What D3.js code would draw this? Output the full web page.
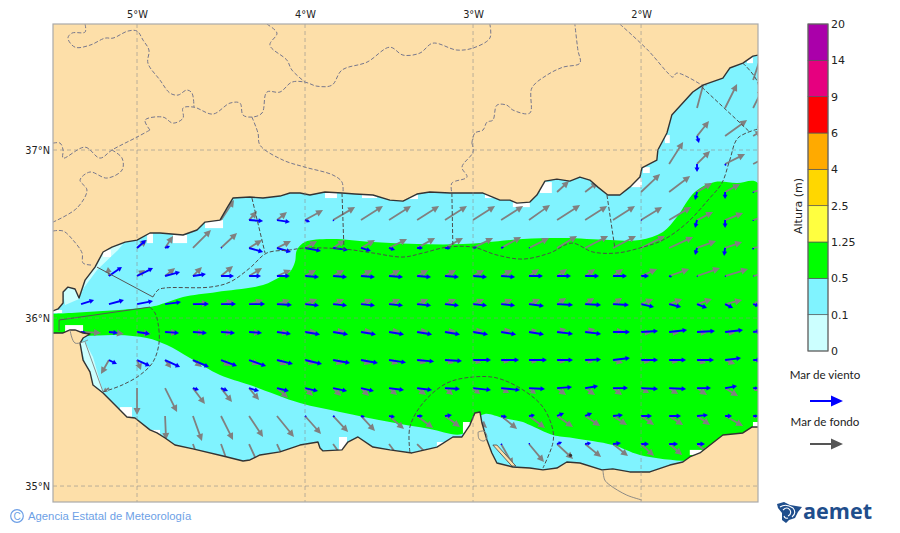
<!DOCTYPE html>
<html lang="es">
<head>
<meta charset="utf-8">
<title>Altura de oleaje</title>
<script src="https://cdn.jsdelivr.net/npm/d3@7"></script>
<style>
  html, body { margin: 0; background: #fff; }
  svg { display: block; }
  text { font-family: "DejaVu Sans", sans-serif; fill: #222; }
</style>
</head>
<body>
<svg id="chart" width="900" height="533"></svg>
<script>
const lonTicks = [-5, -4, -3, -2];
const latTicks = [35, 36, 37];
const levelLabels = ["0", "0.1", "0.5", "1.25", "2.5", "4", "6", "9", "14", "20"];
const levelColors = ["#ccffff", "#80f3ff", "#00ff00", "#ffff40", "#ffd700", "#ffaa00", "#ff0000", "#e6007f", "#aa00aa"];

// outlines in degrees [lon, lat]
const northCoast = [[-5.5,36.042],[-5.47,36.054],[-5.44,36.089],[-5.44,36.155],[-5.411,36.184],[-5.369,36.173],[-5.345,36.119],[-5.309,36.226],[-5.25,36.303],[-5.202,36.393],[-5.149,36.422],[-5.071,36.452],[-5,36.464],[-4.923,36.506],[-4.863,36.506],[-4.726,36.494],[-4.643,36.524],[-4.595,36.571],[-4.506,36.583],[-4.464,36.655],[-4.429,36.714],[-4.328,36.72],[-4.25,36.714],[-4.149,36.726],[-4.09,36.744],[-4.03,36.744],[-3.971,36.732],[-3.881,36.75],[-3.78,36.744],[-3.703,36.738],[-3.596,36.732],[-3.495,36.702],[-3.417,36.696],[-3.334,36.738],[-3.257,36.75],[-3.138,36.744],[-2.941,36.744],[-2.84,36.702],[-2.781,36.702],[-2.739,36.684],[-2.662,36.69],[-2.62,36.732],[-2.572,36.815],[-2.501,36.827],[-2.424,36.815],[-2.364,36.839],[-2.305,36.821],[-2.257,36.779],[-2.198,36.732],[-2.126,36.732],[-2.067,36.779],[-2.007,36.839],[-1.995,36.893],[-1.906,36.94],[-1.9,37],[-1.846,37.101],[-1.817,37.208],[-1.692,37.345],[-1.632,37.386],[-1.513,37.428],[-1.472,37.488],[-1.394,37.517],[-1.334,37.559],[-1.304,37.565]];
const southCoast = [[-5.5,35.911],[-5.44,35.911],[-5.399,35.929],[-5.369,35.929],[-5.321,35.911],[-5.28,35.905],[-5.321,35.881],[-5.339,35.851],[-5.321,35.75],[-5.28,35.679],[-5.262,35.601],[-5.202,35.554],[-5.119,35.47],[-5.06,35.411],[-5.012,35.405],[-4.923,35.334],[-4.881,35.316],[-4.833,35.286],[-4.774,35.244],[-4.667,35.221],[-4.488,35.179],[-4.369,35.149],[-4.328,35.155],[-4.268,35.185],[-4.149,35.203],[-4.03,35.244],[-3.923,35.262],[-3.911,35.226],[-3.893,35.209],[-3.78,35.215],[-3.745,35.262],[-3.685,35.292],[-3.596,35.232],[-3.495,35.215],[-3.364,35.197],[-3.215,35.232],[-3.12,35.292],[-3.066,35.292],[-3.019,35.363],[-2.989,35.435],[-2.959,35.441],[-2.947,35.375],[-2.917,35.274],[-2.888,35.197],[-2.858,35.137],[-2.763,35.113],[-2.662,35.107],[-2.584,35.096],[-2.501,35.107],[-2.442,35.143],[-2.364,35.137],[-2.233,35.096],[-2.168,35.102],[-2.067,35.084],[-1.948,35.084],[-1.829,35.125],[-1.751,35.143],[-1.71,35.173],[-1.65,35.197],[-1.513,35.304],[-1.394,35.316],[-1.341,35.351],[-1.304,35.351]];
const sandSpit = [[-2.882,35.244],[-2.858,35.244],[-2.745,35.119],[-2.769,35.119]];

const band05to125 = [[-5.5,36.024],[-4.923,36.065],[-4.833,36.089],[-4.726,36.125],[-4.524,36.155],[-4.25,36.196],[-4.149,36.244],[-4.09,36.274],[-4.06,36.333],[-4.048,36.405],[-4,36.452],[-3.852,36.47],[-3.596,36.452],[-3.334,36.44],[-3.06,36.44],[-2.703,36.47],[-2.465,36.476],[-2.186,36.464],[-2.007,36.464],[-1.87,36.512],[-1.787,36.601],[-1.68,36.75],[-1.561,36.809],[-1.43,36.803],[-1.304,36.803],[-1.304,35.351],[-1.65,35.155],[-1.728,35.149],[-2.007,35.185],[-2.168,35.244],[-2.406,35.286],[-2.525,35.304],[-2.662,35.363],[-2.703,35.381],[-2.822,35.405],[-2.929,35.429],[-2.989,35.393],[-3.066,35.31],[-3.257,35.34],[-3.495,35.381],[-3.792,35.441],[-4.03,35.494],[-4.328,35.601],[-4.506,35.661],[-4.685,35.762],[-4.822,35.839],[-4.941,35.881],[-5.119,35.899],[-5.321,35.893],[-5.5,35.893]];
const band0to01 = [
  [[-5.327,36.155],[-5.309,36.226],[-5.202,36.393],[-5.149,36.422],[-5.083,36.44],[-5.113,36.405],[-5.238,36.286],[-5.339,36.149]],
  [[-5.44,36.149],[-5.411,36.184],[-5.369,36.173],[-5.345,36.113],[-5.428,36.077]],
  [[-5.327,35.857],[-5.309,35.857],[-5.262,35.768],[-5.202,35.56],[-5.262,35.601],[-5.298,35.69],[-5.339,35.851]]
];
// cells with no wave model value next to the coast [west, north, east, south]
const emptyCells = [[-4.595,36.583,-4.488,36.535],[-4.786,36.494,-4.702,36.446],[-4.94,36.506,-4.905,36.446],[-5.202,36.405,-5.155,36.363],[-5.5,36.048,-5.446,36.03],[-5.428,35.958,-5.321,35.917],[-5.101,35.47,-5.03,35.411],[-4.911,35.334,-4.863,35.31],[-3.881,36.744,-3.81,36.714],[-3.661,36.738,-3.572,36.714],[-3.405,36.732,-3.328,36.708],[-2.929,36.744,-2.882,36.714],[-2.763,36.69,-2.662,36.66],[-3.798,35.292,-3.75,35.215],[-3.06,35.381,-3.019,35.316],[-3.215,35.262,-3.167,35.232],[-2.602,36.809,-2.531,36.744],[-2.067,36.833,-1.995,36.779],[-1.989,36.898,-1.948,36.863],[-1.858,37.089,-1.829,37.041],[-1.37,37.553,-1.334,37.517],[-1.71,35.215,-1.638,35.185],[-1.334,35.381,-1.304,35.351]];

const zoneLines = [
  [[-5.238,36.303],[-4.905,36.125]],
  [[-5.464,35.923],[-5.464,35.988],[-4.923,36.065]]
];
const zoneDashed = [
  [[-4.923,36.065],[-4.893,36.03],[-4.875,35.97],[-4.869,35.851],[-4.905,35.738],[-4.982,35.661],[-5.089,35.601],[-5.202,35.56]],
  [[-4.905,36.125],[-4.875,36.167],[-4.833,36.179],[-4.566,36.184],[-4.447,36.214],[-4.328,36.298],[-4.227,36.387],[-4.09,36.405],[-4,36.417],[-3.762,36.41],[-3.596,36.387],[-3.417,36.363],[-3.298,36.387],[-3.155,36.422],[-3,36.422],[-2.858,36.375],[-2.703,36.351],[-2.543,36.387],[-2.412,36.446],[-2.287,36.393],[-2.144,36.387],[-2.007,36.417],[-1.87,36.464],[-1.728,36.565],[-1.591,36.714],[-1.519,36.803],[-1.472,36.94],[-1.424,37.071],[-1.304,37.125]],
  [[-4.316,36.714],[-4.238,36.387]],
  [[-3.78,36.744],[-3.768,36.405]],
  [[-3.126,36.744],[-3.12,36.422]],
  [[-2.203,36.732],[-2.156,36.417]],
  [[-1.638,37.374],[-1.353,37.107]],
  [[-1.394,37.517],[-1.304,37.398],[-1.304,37.125]],
  [[-3.376,35.203],[-3.376,35.351],[-3.298,35.494],[-3.155,35.613],[-3,35.649],[-2.858,35.643],[-2.703,35.572],[-2.584,35.47],[-2.525,35.334],[-2.525,35.256],[-2.584,35.107]]
];
const provinceBorders = [
  [[-5.309,37.749],[-5.309,37.702],[-5.387,37.696],[-5.411,37.666],[-5.369,37.612],[-5.28,37.624],[-5.19,37.666],[-5.143,37.666],[-5.054,37.708],[-5,37.708],[-4.964,37.654],[-4.929,37.595],[-4.935,37.517],[-4.863,37.416],[-4.804,37.339],[-4.756,37.327],[-4.703,37.357],[-4.673,37.339],[-4.661,37.255]],
  [[-4.923,37.119],[-4.952,37.178],[-4.845,37.196],[-4.786,37.16],[-4.726,37.19],[-4.726,37.25],[-4.661,37.255],[-4.548,37.214],[-4.447,37.279],[-4.387,37.279],[-4.369,37.208],[-4.316,37.196],[-4.256,37.22],[-4.227,37.345],[-4.149,37.345],[-4.078,37.404],[-4,37.404],[-3.929,37.38],[-3.84,37.386],[-3.78,37.476],[-3.631,37.523],[-3.495,37.612],[-3.417,37.565],[-3.316,37.577],[-3.239,37.636],[-3.096,37.595],[-3,37.607],[-2.9,37.666],[-2.9,37.749]],
  [[-5.5,37.041],[-5.458,37.041],[-5.44,37],[-5.44,36.952],[-5.309,37.017],[-5.22,36.952],[-5.149,37],[-5,37.077],[-4.923,37.119]],
  [[-4.227,37.749],[-4.167,37.696],[-4.209,37.624],[-4.108,37.535],[-4.078,37.476],[-4,37.404]],
  [[-4.316,37.196],[-4.28,37.101],[-4.268,37.029],[-4.131,36.94],[-4,36.898],[-3.834,36.851],[-3.78,36.809],[-3.774,36.744]],
  [[-5.149,37],[-5.089,36.952],[-5.089,36.881],[-5.179,36.833],[-5.28,36.869],[-5.339,36.821],[-5.298,36.762],[-5.357,36.655],[-5.5,36.571]],
  [[-5.5,36.518],[-5.44,36.518],[-5.381,36.464],[-5.327,36.387],[-5.321,36.327],[-5.262,36.315]],
  [[-3.007,37.041],[-2.989,37.101],[-2.941,37.119],[-2.917,37.166],[-2.882,37.178],[-2.858,37.267],[-2.799,37.267],[-2.763,37.238],[-2.662,37.22],[-2.65,37.369],[-2.56,37.446],[-2.465,37.493],[-2.364,37.517],[-2.376,37.595],[-2.394,37.749]],
  [[-2.126,37.749],[-1.96,37.595],[-1.84,37.458],[-1.811,37.434],[-1.787,37.458],[-1.638,37.386]],
  [[-3.007,37.041],[-3,36.988],[-3.066,36.898],[-3.036,36.839],[-3.126,36.803],[-3.126,36.744]]
];
const thinLandLines = [
  [[-2.227,35.096],[-2.216,35.036],[-2.186,35.006],[-2.085,34.946],[-1.995,34.917]],
  [[-5.309,35.857],[-5.202,35.56]],
  [[-5.399,35.929],[-5.369,35.851],[-5.292,35.869]],
  [[-2.97,35.321],[-2.935,35.327],[-2.917,35.292],[-2.935,35.268],[-2.964,35.28],[-2.97,35.321]]
];
const islets = [[-2.42, 35.183]];

// arrow grid, 1/6 degree
const gridLons = [-5.333,-5.167,-5,-4.833,-4.667,-4.5,-4.333,-4.167,-4,-3.833,-3.667,-3.5,-3.333,-3.167,-3,-2.833,-2.667,-2.5,-2.333,-2.167,-2,-1.833,-1.667,-1.5,-1.333];
const gridLats = [37.417,37.25,37.083,36.917,36.75,36.583,36.417,36.25,36.083,35.917,35.75,35.583,35.417,35.25];

// one list per grid latitude, entries are [lon index, east, north]
const swellField = [
  [[24,1,3]],
  [[22,.8,3],[23,1.2,2.4],[24,1,2]],
  [[22,1.2,1.5],[23,2.2,1.6],[24,.8,.5]],
  [[21,1.4,2.2],[22,1.3,1.3],[23,2,1],[24,1.6,.8]],
  [[17,1.2,1.1],[18,1.3,1],[20,1.9,1.8],[21,2.1,1.6],[22,1.5,.9],[23,1.5,.8],[24,1.6,.5]],
  [[5,1.3,2],[6,.8,.9],[7,1,.8],[8,1.8,1],[9,2.2,1.3],[10,2.2,1.4],[11,2.2,1.4],[12,2.2,1.4],[13,2.2,1.4],[14,2.2,1.4],[15,2.2,1.4],[16,2.1,1.5],[17,2.3,1.5],[18,2.2,1.4],[19,2.2,1.4],[20,2.1,1.3],[21,2.2,1.3],[22,1.6,.8],[23,1.8,.7],[24,1.6,.5]],
  [[2,1,.8],[3,.8,1.2],[4,1.8,1.8],[5,1.6,1.5],[6,1.3,.8],[7,1.4,.7],[8,1.2,.7],[9,1.2,.8],[10,1.4,.8],[11,1.8,.9],[12,1.8,1],[13,1.8,1],[14,2,1],[15,2,1.1],[16,2,1],[17,2,1.2],[18,2.3,1.2],[19,2.3,1.2],[20,2.4,1.2],[21,2.4,1.1],[22,1.9,.7],[23,1.7,.6],[24,1.6,.3]],
  [[1,-.1,.9],[2,.8,.6],[3,1,.8],[4,.9,.9],[5,1.2,1],[6,1.3,.8],[7,1.4,.6],[8,1.1,.6],[9,1.1,.6],[10,1.1,.6],[11,1.1,.6],[12,1.1,.6],[13,1.1,.6],[14,1.1,.6],[15,1.1,.6],[16,1,.7],[17,1,.7],[18,1,.7],[19,1,.7],[20,1.6,.7],[21,2,.7],[22,2.3,.8],[23,2.3,.7],[24,1.2,.3]],
  [[4,1.6,.1],[5,1.3,.3],[6,1.4,.4],[7,1.3,.4],[8,1.2,.5],[9,1.1,.5],[10,1.1,.5],[11,1.1,.5],[12,1.1,.5],[13,1.1,.5],[14,1.1,.5],[15,1.1,.5],[16,1.1,.5],[17,.9,.6],[18,.9,.6],[19,.9,.6],[20,1.2,.5],[21,1.3,.5],[22,1.5,.5],[23,1.7,.4],[24,.6,.2]],
  [[0,2,-.1],[1,1.5,-.2],[2,1.4,-.2],[3,1.3,-.1],[4,1.2,-.1],[5,1.2,-.1],[6,1.2,-.1],[7,1.2,-.1],[8,1.2,0],[9,1.2,.1],[10,1.1,.1],[11,1.1,.1],[12,1.1,.1],[13,1.1,.1],[14,1,.2],[15,1,.2],[16,.8,.2],[17,.9,.3],[18,1,.3],[19,1.1,.1],[20,1,-.1],[21,1,-.1],[22,1,-.1],[23,1,-.1],[24,.6,0]],
  [[1,-.8,-1.4],[2,.4,-1],[3,.6,-.8],[4,.9,-.7],[5,1,-.6],[6,1,-.5],[7,1,-.5],[8,1,-.4],[9,1,-.4],[10,1,-.4],[11,.9,-.4],[12,.9,-.3],[13,.9,-.3],[14,.8,-.3],[15,.8,-.2],[16,.8,-.2],[17,.8,-.2],[18,.8,-.2],[19,1,-.3],[20,.9,-.2],[21,.9,-.2],[22,.9,-.3],[23,1,-.4],[24,.5,-.1]],
  [[1,-.6,-.4],[2,0,-2.7],[3,1.2,-2.4],[4,1.2,-1.6],[5,1.1,-1.4],[6,1,-1.2],[7,1.1,-1],[8,.8,-.8],[9,.8,-.8],[10,.8,-.8],[11,.8,-.7],[12,.9,-.7],[13,.8,-.7],[14,.7,-.6],[15,.8,-.5],[16,.7,-.6],[17,.9,-.7],[18,1,-.7],[19,.9,-.7],[20,.8,-.5],[21,.9,-.6],[22,1,-.7],[23,1.3,-.8],[24,.5,-.3]],
  [[3,.1,-2.4],[4,.9,-2.5],[5,1.2,-2.4],[6,1.4,-2.1],[7,1.7,-2.1],[8,1.6,-1.8],[9,1.5,-1.6],[10,1.4,-1.5],[11,1.5,-1.3],[12,1.6,-1.2],[13,1.5,-1.1],[14,1.4,-1.2],[15,1.6,-1.3],[16,1.6,-1.2],[17,1.6,-1.1],[18,1.5,-1],[19,1.4,-.9],[20,1.3,-.9],[21,1.4,-.9],[22,1.3,-.9],[23,1.8,-1],[24,.4,-.2]],
  [[4,.8,-2.2],[5,.8,-2.2],[6,1,-2.2],[7,1,-2.2],[9,1.3,-1.8],[11,1.2,-1.6],[12,1.2,-1.2],[15,1.2,-2.1],[16,1.5,-1.8],[17,1.6,-1.5],[18,1.6,-1.3],[19,1.5,-1.2],[20,1.3,-1.2],[21,1.3,-1.1],[22,1.2,-1]]
];
const windField = [
  [],
  [],
  [[22,.2,-.7]],
  [[22,0,-.8],[23,.1,-.2]],
  [[22,-.2,-.8],[23,0,-.7],[24,.05,-.1]],
  [[6,1.4,-.1],[7,1.3,-.2],[8,.5,-.2],[9,.1,-.1],[20,.1,-.05],[22,-.2,-.8],[23,0,-.8],[24,.05,-.1]],
  [[2,.9,.8],[3,.5,.2],[5,.1,.05],[6,1.4,-.4],[7,1.4,-.4],[8,1.6,-.3],[9,1.5,-.2],[10,1,-.3],[11,.6,-.2],[12,.6,0],[13,.6,0],[14,.4,.1],[15,.3,.1],[16,.1,.05],[22,-.2,-.7],[23,-.1,-.8],[24,0,-.2]],
  [[1,1.3,.9],[2,1.6,.8],[3,1.5,.4],[4,1.3,.2],[5,1.3,0],[6,1.2,0],[7,1.3,0],[8,1.4,-.1],[9,1.4,-.1],[10,1.4,-.1],[11,1.4,-.1],[12,1.4,-.1],[13,1.4,-.1],[14,1.4,-.1],[15,1.4,-.1],[16,1.4,0],[17,1.4,0],[18,1.4,0],[19,1.4,0],[20,.8,0],[21,.3,-.1],[22,.1,-.05],[23,.1,-.05],[24,.05,0]],
  [[0,1.3,.4],[1,1.5,.4],[2,1.6,.3],[3,1.6,.2],[4,1.6,0],[5,1.5,0],[6,1.6,0],[7,1.5,-.1],[8,1.4,-.15],[9,1.4,-.15],[10,1.4,-.15],[11,1.4,-.15],[12,1.4,-.15],[13,1.4,-.15],[14,1.4,-.15],[15,1.4,-.15],[16,1.5,-.2],[17,1.6,-.1],[18,1.6,-.1],[19,1.6,-.1],[20,1.3,-.3],[21,1.2,-.3],[22,1,-.4],[23,.8,-.4],[24,.6,-.2]],
  [[0,.5,-.1],[1,.9,-.1],[2,1.3,-.2],[3,1.4,-.1],[4,1.4,-.1],[5,1.4,-.1],[6,1.3,-.1],[7,1.4,-.2],[8,1.5,-.25],[9,1.5,-.25],[10,1.5,-.25],[11,1.5,-.25],[12,1.5,-.25],[13,1.5,-.25],[14,1.5,-.25],[15,1.5,-.25],[16,1.5,-.25],[17,1.6,-.2],[18,1.6,-.2],[19,1.7,0],[20,1.7,.1],[21,1.8,.2],[22,1.8,.1],[23,1.8,.2],[24,.8,.1]],
  [[1,.8,-.4],[2,1.3,-.6],[3,1.5,-.7],[4,1.6,-.7],[5,1.6,-.6],[6,1.7,-.6],[7,1.6,-.4],[8,1.7,-.4],[9,1.7,-.3],[10,1.7,-.3],[11,1.7,-.25],[12,1.7,-.15],[13,1.7,-.1],[14,1.8,0],[15,1.8,0],[16,1.8,0],[17,1.6,0],[18,1.6,.05],[19,1.7,.2],[20,1.7,0],[21,1.7,0],[22,1.7,0],[23,1.6,.2],[24,.8,0]],
  [[4,.6,-.2],[5,.7,-.3],[6,1,-.3],[7,1.2,-.3],[8,1.3,-.3],[9,1.4,-.3],[10,1.3,-.3],[11,1.5,-.2],[12,1.5,-.2],[13,1.5,-.1],[14,1.8,-.2],[15,1.9,-.2],[16,1.6,-.1],[17,1.5,.1],[18,1.3,.2],[19,1.5,0],[20,1.7,-.1],[21,1.7,-.1],[22,1.4,0],[23,1.2,.2],[24,.5,0]],
  [[8,.15,-.1],[9,.2,-.1],[10,.4,-.1],[11,.6,-.1],[12,.6,0],[13,.7,.1],[15,.6,-.1],[16,.6,.1],[17,.7,.3],[18,.7,.3],[19,1,.1],[20,1.1,0],[21,1.2,0],[22,1.1,.1],[23,.7,0],[24,.5,0]],
  [[15,.1,-.1],[16,.1,.1],[17,.5,.2],[18,.6,.1],[19,.8,.1],[20,.8,0],[21,.9,0],[22,.8,0]]
];

const mapBox = { left: 53, right: 758, top: 24, bottom: 502 };
const svg = d3.select("#chart");

const x = d3.scaleLinear().domain([-5.5, -1.304]).range([mapBox.left, mapBox.right]);
const y = d3.scaleLinear().domain([37.75, 34.905]).range([mapBox.top, mapBox.bottom]);
const arrowLength = d3.scaleLinear().domain([0, 1]).range([0, 10]);

const geoLine = d3.line().x((p) => x(p[0])).y((p) => y(p[1]));
const geoCurve = d3.line().x((p) => x(p[0])).y((p) => y(p[1])).curve(d3.curveCatmullRom.alpha(0.5));

svg.append("defs").append("clipPath").attr("id", "map-clip")
  .append("rect")
  .attr("x", mapBox.left)
  .attr("y", mapBox.top)
  .attr("width", mapBox.right - mapBox.left)
  .attr("height", mapBox.bottom - mapBox.top);

const map = svg.append("g").attr("clip-path", "url(#map-clip)");

// sea bands
map.append("rect")
  .attr("x", mapBox.left)
  .attr("y", mapBox.top)
  .attr("width", mapBox.right - mapBox.left)
  .attr("height", mapBox.bottom - mapBox.top)
  .attr("fill", levelColors[1]);

map.selectAll("path.low")
  .data(band0to01)
  .enter()
  .append("path")
  .attr("class", "low")
  .attr("d", (ring) => geoLine(ring) + "Z")
  .attr("fill", levelColors[0]);

map.append("path")
  .attr("d", geoCurve(band05to125) + "Z")
  .attr("fill", levelColors[2]);

map.selectAll("rect.empty")
  .data(emptyCells)
  .enter()
  .append("rect")
  .attr("class", "empty")
  .attr("x", (c) => x(c[0]))
  .attr("y", (c) => y(c[1]))
  .attr("width", (c) => x(c[2]) - x(c[0]))
  .attr("height", (c) => y(c[3]) - y(c[1]))
  .attr("fill", "#fff");

// tail at (x0, y0), tip at (x1, y1), the head shrinks on short arrows
function arrowPath(x0, y0, x1, y1, shaft, headLen, headWidth) {
  const len = Math.hypot(x1 - x0, y1 - y0) || 0.01;
  const ux = (x1 - x0) / len;
  const uy = (y1 - y0) / len;
  const hl = Math.min(headLen, len * 0.6);
  const hw = Math.min(headWidth, Math.max(shaft, len * 0.7));
  const bx = x1 - ux * hl;
  const by = y1 - uy * hl;
  const nx = -uy;
  const ny = ux;
  const pts = [
    [x0 + nx * shaft / 2, y0 + ny * shaft / 2],
    [bx + nx * shaft / 2, by + ny * shaft / 2],
    [bx + nx * hw / 2, by + ny * hw / 2],
    [x1, y1],
    [bx - nx * hw / 2, by - ny * hw / 2],
    [bx - nx * shaft / 2, by - ny * shaft / 2],
    [x0 - nx * shaft / 2, y0 - ny * shaft / 2]
  ];
  return `M${pts.join("L")}Z`;
}

function drawField(field, color, shaft, headLen, headWidth) {
  const vectors = field.flatMap((row, i) => row.map((v) => ({
    x0: x(gridLons[v[0]]),
    y0: y(gridLats[i]),
    dx: arrowLength(v[1]),
    dy: -arrowLength(v[2])
  })));
  map.append("g")
    .selectAll("path")
    .data(vectors)
    .enter()
    .append("path")
    .attr("d", (d) => arrowPath(d.x0, d.y0, d.x0 + d.dx, d.y0 + d.dy, shaft, headLen, headWidth))
    .attr("fill", color);
}

drawField(swellField, "#808080", 1.8, 7, 7);
drawField(windField, "#0000ff", 1.9, 4.5, 5);

// land sits on top of the arrows
const landNorth = geoLine(northCoast) + `L${x(-1.304)},${mapBox.top}L${mapBox.left},${mapBox.top}Z`;
const landSouth = geoLine(southCoast) + `L${x(-1.304)},${mapBox.bottom}L${mapBox.left},${mapBox.bottom}Z`;
map.append("path").attr("d", landNorth).attr("fill", "#fddfa9");
map.append("path").attr("d", landSouth).attr("fill", "#fddfa9");
map.append("path").attr("d", geoLine(sandSpit) + "Z").attr("fill", "#fddfa9").attr("stroke", "#444").attr("stroke-width", 0.8);

[northCoast, southCoast].forEach((coast) => {
  map.append("path")
    .attr("d", geoLine(coast))
    .attr("fill", "none")
    .attr("stroke", "#333")
    .attr("stroke-width", 1.4)
    .attr("stroke-linejoin", "round");
});

map.selectAll("circle.islet")
  .data(islets)
  .enter()
  .append("circle")
  .attr("class", "islet")
  .attr("cx", (p) => x(p[0]))
  .attr("cy", (p) => y(p[1]))
  .attr("r", 1.6)
  .attr("fill", "#333");

map.selectAll("path.province")
  .data(provinceBorders)
  .enter()
  .append("path")
  .attr("class", "province")
  .attr("d", geoCurve)
  .attr("fill", "none")
  .attr("stroke", "#77778c")
  .attr("stroke-width", 1)
  .attr("stroke-dasharray", "4 2");

map.selectAll("path.thin")
  .data(thinLandLines)
  .enter()
  .append("path")
  .attr("class", "thin")
  .attr("d", geoCurve)
  .attr("fill", "none")
  .attr("stroke", "#808080")
  .attr("stroke-width", 0.9);

map.selectAll("path.zone")
  .data(zoneLines)
  .enter()
  .append("path")
  .attr("class", "zone")
  .attr("d", geoLine)
  .attr("fill", "none")
  .attr("stroke", "#555")
  .attr("stroke-width", 1);

map.selectAll("path.zone-dash")
  .data(zoneDashed)
  .enter()
  .append("path")
  .attr("class", "zone-dash")
  .attr("d", geoCurve)
  .attr("fill", "none")
  .attr("stroke", "#4d4d4d")
  .attr("stroke-width", 1)
  .attr("stroke-dasharray", "4 2");

// graticule
const gridStyle = (sel) => sel
  .attr("stroke", "#8c8c8c")
  .attr("stroke-opacity", 0.65)
  .attr("stroke-width", 0.9)
  .attr("stroke-dasharray", "4 3");

map.selectAll("line.grid-lon")
  .data(lonTicks)
  .enter()
  .append("line")
  .attr("class", "grid-lon")
  .attr("x1", (d) => x(d))
  .attr("x2", (d) => x(d))
  .attr("y1", mapBox.top)
  .attr("y2", mapBox.bottom)
  .call(gridStyle);

map.selectAll("line.grid-lat")
  .data(latTicks)
  .enter()
  .append("line")
  .attr("class", "grid-lat")
  .attr("x1", mapBox.left)
  .attr("x2", mapBox.right)
  .attr("y1", (d) => y(d))
  .attr("y2", (d) => y(d))
  .call(gridStyle);

svg.append("rect")
  .attr("x", mapBox.left)
  .attr("y", mapBox.top)
  .attr("width", mapBox.right - mapBox.left)
  .attr("height", mapBox.bottom - mapBox.top)
  .attr("fill", "none")
  .attr("stroke", "#aaa")
  .attr("stroke-width", 1.2);

// axes, labels only
const topAxis = svg.append("g")
  .attr("transform", `translate(0,${mapBox.top})`)
  .call(d3.axisTop(x).tickValues(lonTicks).tickSize(0).tickPadding(6).tickFormat((d) => `${Math.abs(d)}°W`));
const leftAxis = svg.append("g")
  .attr("transform", `translate(${mapBox.left},0)`)
  .call(d3.axisLeft(y).tickValues(latTicks).tickSize(0).tickPadding(3).tickFormat((d) => `${d}°N`));
[topAxis, leftAxis].forEach((axis) => {
  axis.select(".domain").remove();
  axis.selectAll("text").style("font-family", '"DejaVu Sans", sans-serif').style("font-size", "9.8px").attr("fill", "#222");
});

// colour bar
const barX = 808;
const barWidth = 20;
const barY = d3.scalePoint().domain(levelLabels).range([351, 24]);

svg.append("g")
  .selectAll("rect")
  .data(levelColors)
  .enter()
  .append("rect")
  .attr("x", barX)
  .attr("y", (d, i) => barY(levelLabels[i + 1]))
  .attr("width", barWidth)
  .attr("height", (d, i) => barY(levelLabels[i]) - barY(levelLabels[i + 1]))
  .attr("fill", (d) => d)
  .attr("stroke", "#555")
  .attr("stroke-width", 0.7);

svg.append("rect")
  .attr("x", barX)
  .attr("y", 24)
  .attr("width", barWidth)
  .attr("height", 327)
  .attr("fill", "none")
  .attr("stroke", "#666")
  .attr("stroke-width", 1);

const barAxis = svg.append("g")
  .attr("transform", `translate(${barX + barWidth},0)`)
  .call(d3.axisRight(barY).tickSize(0).tickPadding(3));
barAxis.select(".domain").remove();
barAxis.selectAll("text").style("font-family", '"DejaVu Sans", sans-serif').style("font-size", "11px").attr("fill", "#222");

svg.append("text")
  .attr("transform", "translate(802,206) rotate(-90)")
  .attr("text-anchor", "middle")
  .style("font-size", "11px")
  .text("Altura (m)");

// arrow legend
const legendFont = 'Lato, "Open Sans", sans-serif';
svg.append("text").attr("x", 825).attr("y", 379).attr("text-anchor", "middle")
  .style("font-family", legendFont).style("font-size", "11.6px").text("Mar de viento");
svg.append("text").attr("x", 825).attr("y", 426).attr("text-anchor", "middle")
  .style("font-family", legendFont).style("font-size", "11.6px").text("Mar de fondo");
svg.append("path").attr("d", arrowPath(810, 401, 843, 401, 2, 12, 11)).attr("fill", "#0000ff");
svg.append("path").attr("d", arrowPath(810, 444, 843, 444, 2, 12, 11)).attr("fill", "#555");

// credit
svg.append("circle").attr("cx", 17).attr("cy", 516).attr("r", 6.3)
  .attr("fill", "none").attr("stroke", "#6d9fe6").attr("stroke-width", 1.2);
svg.append("text").attr("x", 17).attr("y", 519.6).attr("text-anchor", "middle")
  .style("font-family", '"Liberation Sans", sans-serif').style("font-size", "10px").style("fill", "#6d9fe6").text("C");
svg.append("text").attr("x", 28).attr("y", 520)
  .style("font-family", '"Liberation Sans", sans-serif').style("font-size", "11.3px").style("fill", "#6d9fe6")
  .text("Agencia Estatal de Meteorología");

// aemet logo
const logo = svg.append("g").attr("transform", "translate(777,502)");
logo.append("path")
  .attr("d", "M0,2L7,0L13,3L25,5L21,10L18,16L12,18L9,21L5,18L5,11L1,6Z")
  .attr("fill", "#1f4e8c");
logo.selectAll("path.swirl")
  .data(["M3,5Q9,1 16,6Q20,11 15,15", "M6,8Q10,4 13,8Q15,12 11,14", "M7,14Q8,17 11,16"])
  .enter()
  .append("path")
  .attr("class", "swirl")
  .attr("d", (d) => d)
  .attr("fill", "none")
  .attr("stroke", "#fff")
  .attr("stroke-width", 1.1);
svg.append("text").attr("x", 803).attr("y", 519)
  .style("font-family", '"Open Sans", sans-serif').style("font-weight", 700).style("font-size", "22px").style("fill", "#1f4e8c")
  .attr("textLength", 69).attr("lengthAdjust", "spacingAndGlyphs")
  .text("aemet");
</script>
</body>
</html>
